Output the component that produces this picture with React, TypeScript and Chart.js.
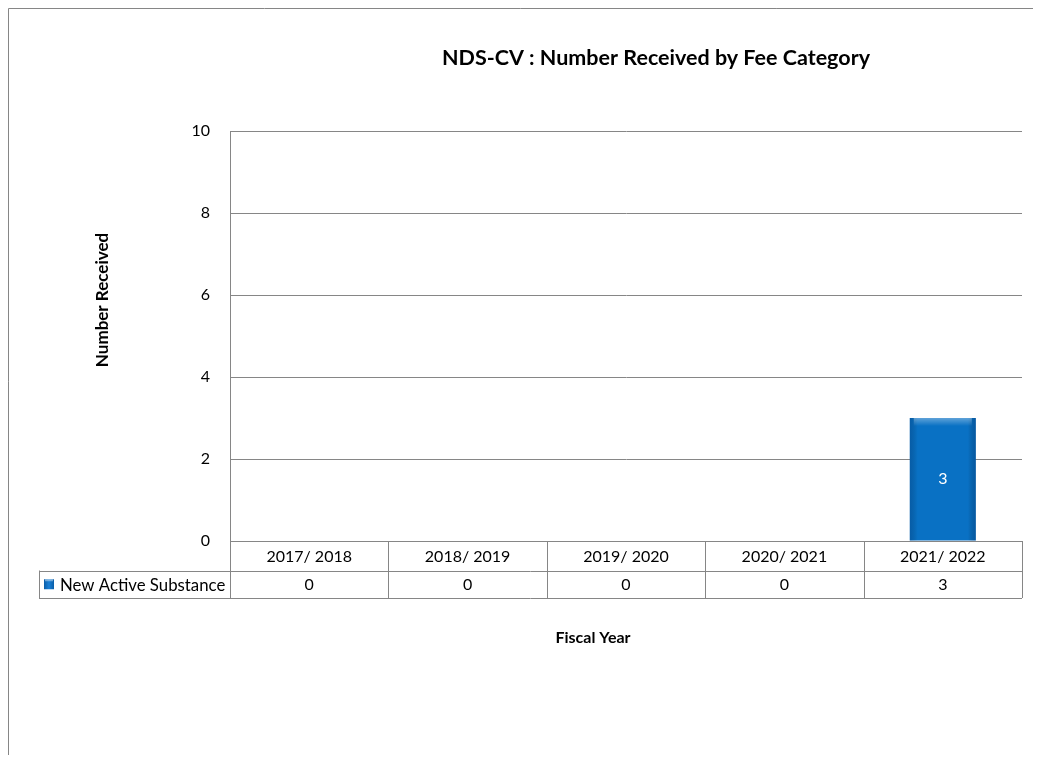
import React, { useEffect, useRef } from "react";
import { Chart, registerables } from "chart.js";

Chart.register(...registerables);

const categories = ["2017/ 2018", "2018/ 2019", "2019/ 2020", "2020/ 2021", "2021/ 2022"];
const seriesName = "New Active Substance";
const seriesValues = [0, 0, 0, 0, 3];
const yTicks = [0, 2, 4, 6, 8, 10];
const chartTitle = "NDS-CV : Number Received by Fee Category";
const xTitle = "Fiscal Year";
const yTitle = "Number Received";

const FONT = "Lato, 'Open Sans', sans-serif";
const LINE = "#868686";
const BAR = "#0971C4";

const W = 1025;
const H = 747;

const tablePlugin = {
  id: "tablePlugin",
  afterDatasetsDraw(chart: any) {
    const ctx = chart.ctx;
    const meta = chart.getDatasetMeta(0);
    ctx.save();
    meta.data.forEach((bar: any, i: number) => {
      const v = seriesValues[i];
      if (v > 0) {
        const left = bar.x - bar.width / 2;
        const top = bar.y;
        const h = bar.base - bar.y;
        const g = ctx.createLinearGradient(left, 0, left + bar.width, 0);
        g.addColorStop(0, "rgba(0,30,80,0.25)");
        g.addColorStop(0.12, "rgba(0,0,0,0)");
        g.addColorStop(0.88, "rgba(0,0,0,0)");
        g.addColorStop(1, "rgba(0,30,80,0.3)");
        ctx.fillStyle = g;
        ctx.fillRect(left, top, bar.width, h);
        const g2 = ctx.createLinearGradient(0, top, 0, top + 8);
        g2.addColorStop(0, "rgba(255,255,255,0.35)");
        g2.addColorStop(1, "rgba(255,255,255,0)");
        ctx.fillStyle = g2;
        ctx.fillRect(left + 4, top, bar.width - 8, 8);
      }
      ctx.fillStyle = "#ffffff";
      ctx.font = `16px ${FONT}`;
      ctx.textAlign = "center";
      ctx.textBaseline = "middle";
      ctx.fillText(String(v), bar.x, (bar.y + bar.base) / 2);
    });
    ctx.restore();
  },
  afterDraw(chart: any) {
    const ctx = chart.ctx;
    const area = chart.chartArea;
    const xs = chart.scales.x;
    const n = categories.length;
    const colW = (area.right - area.left) / n;
    const r0 = area.bottom;
    const r1 = r0 + 29.5;
    const r2 = r1 + 27.5;
    const legLeft = 31;
    ctx.save();
    // outer border (left & top)
    ctx.strokeStyle = LINE;
    ctx.lineWidth = 1;
    ctx.beginPath();
    ctx.moveTo(0.5, H);
    ctx.lineTo(0.5, 0.5);
    ctx.lineTo(W, 0.5);
    ctx.stroke();
    // table lines
    ctx.beginPath();
    ctx.moveTo(area.left, Math.round(r0) + 0.5);
    ctx.lineTo(area.right, Math.round(r0) + 0.5);
    ctx.moveTo(legLeft, Math.round(r1) + 0.5);
    ctx.lineTo(area.right, Math.round(r1) + 0.5);
    ctx.moveTo(legLeft, Math.round(r2) + 0.5);
    ctx.lineTo(area.right, Math.round(r2) + 0.5);
    for (let i = 0; i <= n; i++) {
      const x = Math.round(area.left + i * colW) + 0.5;
      ctx.moveTo(x, r0);
      ctx.lineTo(x, r2);
    }
    ctx.moveTo(legLeft + 0.5, r1);
    ctx.lineTo(legLeft + 0.5, r2);
    ctx.stroke();
    // table text
    ctx.fillStyle = "#000000";
    ctx.font = `16px ${FONT}`;
    ctx.textAlign = "center";
    ctx.textBaseline = "middle";
    categories.forEach((c, i) => {
      const cx = xs.getPixelForValue(i);
      ctx.fillText(c, cx, (r0 + r1) / 2 + 1);
      ctx.fillText(String(seriesValues[i]), cx, (r1 + r2) / 2 + 1);
    });
    // legend key
    const ky = (r1 + r2) / 2;
    const kg = ctx.createLinearGradient(36, 0, 46, 0);
    kg.addColorStop(0, "#0a5ea8");
    kg.addColorStop(0.5, "#1a80d6");
    kg.addColorStop(1, "#0a5ea8");
    ctx.fillStyle = kg;
    ctx.fillRect(36, ky - 5, 10, 10);
    ctx.fillStyle = "rgba(255,255,255,0.4)";
    ctx.fillRect(37, ky - 5, 8, 2);
    ctx.fillStyle = "#000000";
    ctx.textAlign = "left";
    ctx.font = `16.8px ${FONT}`;
    ctx.fillText(seriesName, 52, ky + 1);
    // titles
    ctx.font = `bold 21.5px ${FONT}`;
    ctx.textAlign = "center";
    ctx.fillText(chartTitle, 648, 50);
    ctx.font = `bold 16px ${FONT}`;
    ctx.fillText(xTitle, 585, 630);
    ctx.translate(95, 292);
    ctx.rotate(-Math.PI / 2);
    ctx.font = `bold 17px ${FONT}`;
    ctx.fillText(yTitle, 0, 0);
    ctx.restore();
  },
};

export default function App() {
  const ref = useRef<HTMLCanvasElement | null>(null);
  useEffect(() => {
    if (!ref.current) return;
    const chart = new Chart(ref.current, {
      type: "bar",
      data: {
        labels: categories,
        datasets: [
          {
            label: seriesName,
            data: seriesValues,
            backgroundColor: BAR,
            borderWidth: 0,
            categoryPercentage: 1,
            barPercentage: 0.417,
          },
        ],
      },
      options: {
        responsive: false,
        animation: false,
        layout: { padding: { left: 0, top: 123, right: 11, bottom: 214 } },
        plugins: {
          legend: { display: false },
          title: { display: false },
          tooltip: { enabled: false },
        },
        scales: {
          x: { display: false },
          y: {
            min: 0,
            max: 10,
            afterFit: (s: any) => {
              s.width = 222;
            },
            afterBuildTicks: (s: any) => {
              s.ticks = yTicks.map((v) => ({ value: v }));
            },
            ticks: {
              font: { family: FONT, size: 16 },
              color: "#000000",
              padding: 20,
            },
            grid: { color: LINE, lineWidth: 1, drawTicks: false },
            border: { display: true, color: LINE, width: 1 },
          },
        },
      },
      plugins: [tablePlugin],
    });
    return () => chart.destroy();
  }, []);
  return <canvas ref={ref} width={W} height={H} style={{ display: "block", width: W, height: H }} />;
}
